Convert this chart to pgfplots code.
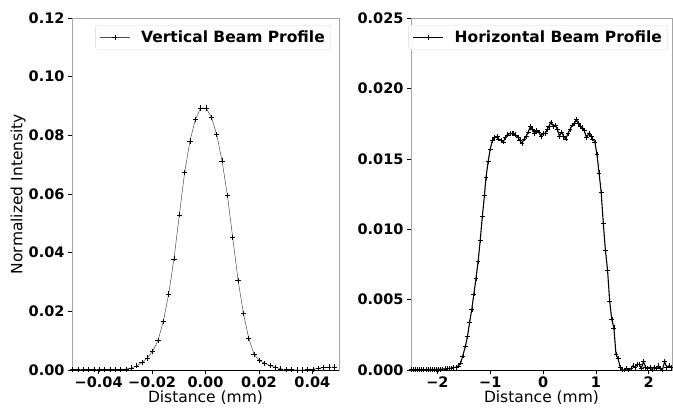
\documentclass[border=0pt]{standalone}
\usepackage{fontspec}
\setmainfont{DejaVu Sans}
\usepackage{pgfplots}
\pgfplotsset{compat=1.18}

\pgfplotstableread{
x y
-0.0498 0.0001
-0.0478 0.0001
-0.0458 0.0001
-0.0438 0.0001
-0.0418 0.0001
-0.0398 0.0001
-0.0378 0.0001
-0.0358 0.0001
-0.0338 0.0001
-0.0318 0.0002
-0.0298 0.0003
-0.0278 0.0007
-0.0258 0.0014
-0.0238 0.0025
-0.0218 0.0041
-0.0198 0.0064
-0.0178 0.0100
-0.0158 0.0166
-0.0138 0.0259
-0.0118 0.0379
-0.0098 0.0529
-0.0078 0.0674
-0.0058 0.0781
-0.0038 0.0854
-0.0018 0.0893
0.0002 0.0893
0.0022 0.0862
0.0042 0.0802
0.0062 0.0713
0.0082 0.0596
0.0102 0.0451
0.0122 0.0306
0.0142 0.0193
0.0162 0.0108
0.0182 0.0053
0.0202 0.0032
0.0222 0.0023
0.0242 0.0015
0.0262 0.0009
0.0282 0.0004
0.0302 0.0002
0.0322 0.0001
0.0342 0.0000
0.0362 0.0000
0.0382 0.0001
0.0402 0.0002
0.0422 0.0006
0.0442 0.0009
0.0462 0.0010
0.0482 0.0010
}\vdata

\pgfplotstableread{
x y
-2.50 0.00003
-2.46 0.00003
-2.42 0.00003
-2.38 0.00003
-2.34 0.00003
-2.30 0.00003
-2.26 0.00003
-2.22 0.00003
-2.18 0.00004
-2.14 0.00004
-2.10 0.00004
-2.06 0.00004
-2.02 0.00005
-1.98 0.00005
-1.94 0.00006
-1.90 0.00007
-1.86 0.00008
-1.82 0.00009
-1.78 0.00011
-1.74 0.00013
-1.70 0.00016
-1.65 0.0002
-1.60 0.0003
-1.56 0.0005
-1.52 0.0010
-1.47 0.0017
-1.43 0.0024
-1.39 0.0034
-1.35 0.0043
-1.31 0.0054
-1.27 0.0065
-1.23 0.0077
-1.19 0.0092
-1.15 0.0109
-1.11 0.0124
-1.08 0.0137
-1.04 0.0148
-1.00 0.0157
-0.96 0.0163
-0.92 0.0165
-0.87 0.0166
-0.84 0.0164
-0.79 0.0163
-0.75 0.0162
-0.72 0.0165
-0.68 0.0167
-0.63 0.0168
-0.59 0.0168
-0.56 0.0168
-0.52 0.0167
-0.47 0.0165
-0.44 0.0163
-0.40 0.0161
-0.36 0.0164
-0.32 0.0166
-0.28 0.0169
-0.24 0.0173
-0.20 0.0171
-0.16 0.0168
-0.13 0.0170
-0.08 0.0169
-0.04 0.0166
0.00 0.0168
0.04 0.0168
0.08 0.0171
0.11 0.0173
0.15 0.0176
0.20 0.0173
0.23 0.0174
0.27 0.0171
0.31 0.0166
0.35 0.0169
0.39 0.0166
0.43 0.0164
0.47 0.0168
0.51 0.0171
0.55 0.0174
0.59 0.0175
0.63 0.0178
0.67 0.0175
0.71 0.0173
0.75 0.0172
0.78 0.0170
0.82 0.0165
0.87 0.0168
0.91 0.0166
0.94 0.0164
0.98 0.0162
1.02 0.0153
1.06 0.0140
1.10 0.0126
1.14 0.0104
1.18 0.0085
1.22 0.0071
1.26 0.0049
1.30 0.0036
1.34 0.0030
1.38 0.0011
1.42 0.0008
1.46 0.0002
1.50 0.0000
1.54 0.0000
1.58 0.0001
1.62 0.0000
1.66 0.0001
1.70 0.0003
1.74 0.0002
1.78 0.0004
1.82 0.0004
1.86 0.0001
1.90 0.0006
1.94 0.0002
1.98 0.0001
2.02 0.0002
2.06 0.0000
2.10 0.0002
2.14 0.0001
2.18 0.0003
2.22 0.0001
2.26 0.0000
2.30 0.0006
2.34 0.0002
2.38 0.0003
2.42 0.0002
}\hdata

\begin{document}
\begin{tikzpicture}
\pgfplotsset{
  every axis/.append style={
    scale only axis,
    height=352pt,
    scaled ticks=false,
    axis line style={gray!70},
    tick style={black, line width=0.6pt},
    tick align=outside,
    major tick length=4pt,
    xtick pos=bottom, ytick pos=left,
    ticklabel style={font=\bfseries\fontsize{14.5}{16}\selectfont},
    xticklabel style={yshift=1pt},
    label style={font=\fontsize{15.5}{18}\selectfont},
    xlabel style={at={(axis description cs:0.5,0)}, yshift=-28pt, anchor=center},
    legend cell align=left,
    legend image code/.code={\draw[mark repeat=2, mark phase=2, #1] plot coordinates {(0pt,0pt) (15pt,0pt) (30pt,0pt)};},
    legend style={draw=gray!30, rounded corners=2pt, fill=white, fill opacity=0.9, text opacity=1,
      font=\bfseries\fontsize{15.5}{18}\selectfont, inner xsep=4pt, inner ysep=3.5pt,
      /tikz/every odd column/.append style={column sep=9pt}},
    after end axis/.code={\draw[black, line width=0.8pt] (rel axis cs:0,0) -- (rel axis cs:1,0);},
  }
}
\begin{axis}[
  at={(0pt,0pt)}, anchor=south west,
  width=267pt,
  xmin=-0.05, xmax=0.05, ymin=0, ymax=0.12,
  xtick={-0.04,-0.02,0,0.02,0.04},
  xticklabels={−0.04,−0.02,0.00,0.02,0.04},
  ytick={0,0.02,0.04,0.06,0.08,0.10,0.12},
  yticklabels={0.00,0.02,0.04,0.06,0.08,0.10,0.12},
  xlabel={Distance (mm)},
  ylabel={Normalized Intensity},
  ylabel style={at={(axis description cs:0,0.5)}, yshift=54pt, anchor=center},
  legend style={at={(0.97,0.98)}, anchor=north east},
]
\addplot[gray!60!black, line width=0.5pt, mark=+, mark size=2.6pt, mark options={black, line width=0.6pt}] table[x=x,y=y] {\vdata};
\addlegendentry{Vertical Beam Profile}
\end{axis}
\begin{axis}[
  at={(339pt,0pt)}, anchor=south west,
  width=261pt,
  xmin=-2.5, xmax=2.44, ymin=0, ymax=0.025,
  xtick={-2,-1,0,1,2},
  xticklabels={−2,−1,0,1,2},
  ytick={0,0.005,0.010,0.015,0.020,0.025},
  yticklabels={0.000,0.005,0.010,0.015,0.020,0.025},
  xlabel={Distance (mm)},
  legend style={at={(0.985,0.98)}, anchor=north east},
]
\addplot[black, line width=1.1pt, mark=+, mark size=2.4pt, mark options={black, line width=0.5pt}] table[x=x,y=y] {\hdata};
\addlegendentry{Horizontal Beam Profile}
\end{axis}
\pgfresetboundingbox
\path[use as bounding box] (-72pt,-38pt) rectangle (601pt,370pt);
\end{tikzpicture}
\end{document}
